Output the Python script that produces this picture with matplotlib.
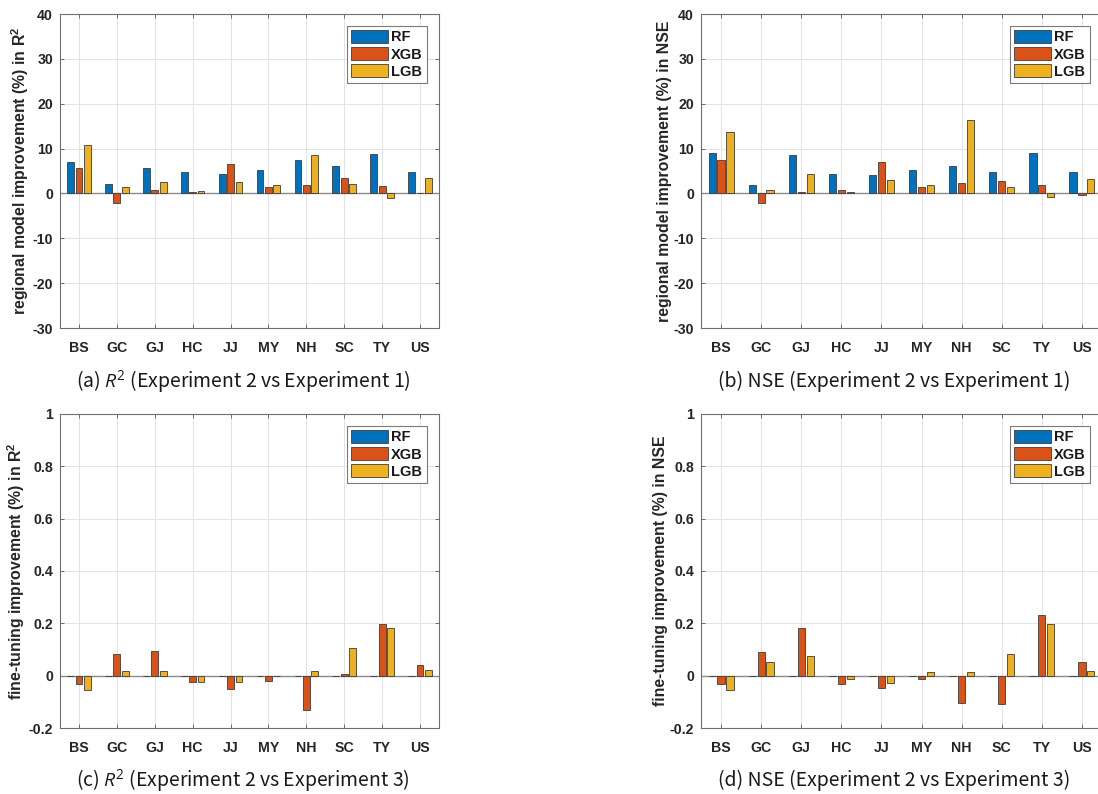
import numpy as np
import matplotlib.pyplot as plt

regions = ["BS", "GC", "GJ", "HC", "JJ", "MY", "NH", "SC", "TY", "US"]
models = ["RF", "XGB", "LGB"]
model_colors = ["#0072BD", "#D95319", "#EDB120"]

# (a) R2, experiment 2 vs experiment 1
r2_regional_rf = [7.0, 2.2, 5.6, 4.7, 4.3, 5.3, 7.4, 6.1, 8.7, 4.7]
r2_regional_xgb = [5.6, -2.1, 0.7, 0.4, 6.5, 1.5, 1.9, 3.5, 1.7, 0.0]
r2_regional_lgb = [10.8, 1.4, 2.5, 0.6, 2.5, 1.9, 8.6, 2.2, -1.0, 3.5]

# (b) NSE, experiment 2 vs experiment 1
nse_regional_rf = [9.0, 1.9, 8.5, 4.4, 4.2, 5.3, 6.2, 4.7, 9.0, 4.7]
nse_regional_xgb = [7.4, -2.1, 0.35, 0.7, 7.0, 1.4, 2.4, 2.8, 1.8, -0.3]
nse_regional_lgb = [13.8, 0.8, 4.4, 0.35, 2.9, 1.9, 16.4, 1.5, -0.7, 3.2]

# (c) R2, experiment 2 vs experiment 3
r2_finetune_rf = [0.0] * 10
r2_finetune_xgb = [-0.031, 0.082, 0.096, -0.023, -0.050, -0.019, -0.133, 0.005, 0.198, 0.042]
r2_finetune_lgb = [-0.055, 0.018, 0.017, -0.023, -0.026, -0.003, 0.018, 0.106, 0.182, 0.023]

# (d) NSE, experiment 2 vs experiment 3
nse_finetune_rf = [0.0] * 10
nse_finetune_xgb = [-0.031, 0.090, 0.182, -0.031, -0.047, -0.011, -0.103, -0.108, 0.231, 0.051]
nse_finetune_lgb = [-0.054, 0.054, 0.075, -0.011, -0.029, 0.013, 0.013, 0.082, 0.196, 0.018]

regional_ticks = [-30, -20, -10, 0, 10, 20, 30, 40]
regional_ticklabels = ["-30", "-20", "-10", "0", "10", "20", "30", "40"]
finetune_ticks = [-0.2, 0, 0.2, 0.4, 0.6, 0.8, 1.0]
finetune_ticklabels = ["-0.2", "0", "0.2", "0.4", "0.6", "0.8", "1"]

plt.rcParams["mathtext.fontset"] = "custom"
plt.rcParams["mathtext.bf"] = "Liberation Sans:bold"
plt.rcParams["mathtext.rm"] = "Open Sans"
plt.rcParams["mathtext.it"] = "Open Sans:italic"

W, H = 1098, 794
TEXT = "#262626"


def px_axes(fig, left, top, right, bottom):
    return fig.add_axes([left / W, 1 - bottom / H, (right - left) / W, (bottom - top) / H])


def draw_panel(ax, values, ylim, ticks, ticklabels, ylabel):
    x = np.arange(1, len(regions) + 1)
    offsets = [-0.222, 0.0, 0.222]
    for vals, off, color, name in zip(values, offsets, model_colors, models):
        ax.bar(x + off, vals, width=0.178, color=color, edgecolor="#3c3c3c",
               linewidth=0.6, label=name, zorder=3)
    ax.axhline(0, color="#8a8a8a", linewidth=1.0, zorder=2.5)

    ax.set_xlim(0.5, 10.5)
    ax.set_ylim(*ylim)
    ax.set_xticks(x)
    ax.set_xticklabels(regions)
    ax.set_yticks(ticks)
    ax.set_yticklabels(ticklabels)
    for lab in ax.get_xticklabels() + ax.get_yticklabels():
        lab.set_family("Liberation Sans")
        lab.set_weight("bold")
        lab.set_fontsize(10.2)
        lab.set_color(TEXT)
    ax.tick_params(direction="in", length=3, width=0.6, color="#555555",
                   top=True, right=True, pad=5)
    ax.tick_params(axis="x", pad=9)
    ax.grid(True, color="#e3e3e3", linewidth=0.7, zorder=0)
    ax.set_axisbelow(True)
    for sp in ax.spines.values():
        sp.set_color("#6e6e6e")
        sp.set_linewidth(0.8)

    ax.set_ylabel(ylabel, family="Liberation Sans", weight="bold", fontsize=11.4,
                  color=TEXT, labelpad=1)

    leg = ax.legend(loc="upper right", prop={"family": "Liberation Sans", "weight": "bold", "size": 10.5},
                    fancybox=False, edgecolor="#7a7a7a", framealpha=1,
                    handlelength=2.5, handleheight=0.95, labelspacing=0.2,
                    borderpad=0.3, handletextpad=0.25, borderaxespad=0.8)
    leg.get_frame().set_linewidth(0.8)
    for t in leg.get_texts():
        t.set_color("#1a1a1a")


fig = plt.figure(figsize=(W / 100, H / 100), dpi=100)

ax_a = px_axes(fig, 60, 14, 439, 328)
ax_b = px_axes(fig, 701, 14, 1102, 328)
ax_c = px_axes(fig, 60, 414, 439, 728)
ax_d = px_axes(fig, 701, 414, 1102, 728)

draw_panel(ax_a, [r2_regional_rf, r2_regional_xgb, r2_regional_lgb], (-30, 40),
           regional_ticks, regional_ticklabels,
           r"regional model improvement (%) in $\mathbf{R}^{\mathbf{2}}$")
draw_panel(ax_b, [nse_regional_rf, nse_regional_xgb, nse_regional_lgb], (-30, 40),
           regional_ticks, regional_ticklabels,
           "regional model improvement (%) in NSE")
draw_panel(ax_c, [r2_finetune_rf, r2_finetune_xgb, r2_finetune_lgb], (-0.2, 1.0),
           finetune_ticks, finetune_ticklabels,
           r"fine-tuning improvement (%) in $\mathbf{R}^{\mathbf{2}}$")
draw_panel(ax_d, [nse_finetune_rf, nse_finetune_xgb, nse_finetune_lgb], (-0.2, 1.0),
           finetune_ticks, finetune_ticklabels,
           "fine-tuning improvement (%) in NSE")

cap = dict(ha="center", va="center", fontsize=14, family="Noto Sans CJK KR",
           weight="light", color="#1a1a1a")
fig.text(243 / W, 1 - 381 / H, r"(a) $\mathit{R}^{2}$ (Experiment 2 vs Experiment 1)", **cap)
fig.text(894 / W, 1 - 381 / H, "(b) NSE (Experiment 2 vs Experiment 1)", **cap)
fig.text(243 / W, 1 - 780 / H, r"(c) $\mathit{R}^{2}$ (Experiment 2 vs Experiment 3)", **cap)
fig.text(894 / W, 1 - 780 / H, "(d) NSE (Experiment 2 vs Experiment 3)", **cap)

fig.savefig("out.png", dpi=100)
